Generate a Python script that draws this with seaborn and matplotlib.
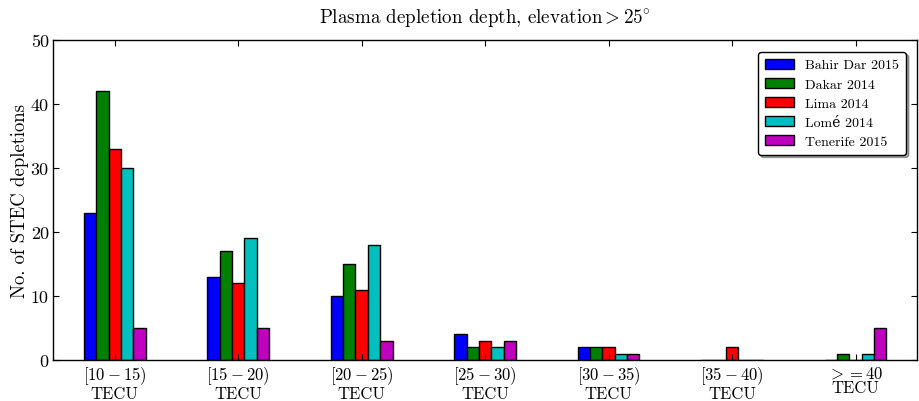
import matplotlib
matplotlib.use("Agg")
import matplotlib.pyplot as plt
import seaborn as sns
import pandas as pd

categories = ["$[10-15)$\nTECU", "$[15-20)$\nTECU", "$[20-25)$\nTECU", "$[25-30)$\nTECU",
              "$[30-35)$\nTECU", "$[35-40)$\nTECU", "$>=40$\nTECU"]
stations = ["Bahir Dar 2015", "Dakar 2014", "Lima 2014", "Lomé 2014", "Tenerife 2015"]
bahir_dar = [23, 13, 10, 4, 2, 0, 0]
dakar = [42, 17, 15, 2, 2, 0, 1]
lima = [33, 12, 11, 3, 2, 2, 0]
lome = [30, 19, 18, 2, 1, 0, 1]
tenerife = [5, 5, 3, 3, 1, 0, 5]
colors = ["#0000ff", "#008000", "#ff0000", "#00bfbf", "#bf00bf"]

series = [bahir_dar, dakar, lima, lome, tenerife]
rows = []
for st, vals in zip(stations, series):
    for c, v in zip(categories, vals):
        rows.append({"cat": c, "station": st, "count": v})
df = pd.DataFrame(rows)

plt.rcParams["font.family"] = ["cmr10", "DejaVu Serif"]
plt.rcParams["mathtext.fontset"] = "cm"
plt.rcParams["axes.formatter.use_mathtext"] = True

fig = plt.figure(figsize=(9.2, 4.02), dpi=100)
ax = fig.add_axes([0.0576, 0.102, 0.9394, 0.796])
sns.barplot(data=df, x="cat", y="count", hue="station", hue_order=stations,
            order=categories, palette=colors, width=0.5, edgecolor="black",
            linewidth=1, saturation=1, ax=ax, errorbar=None)
ax.set_xlim(-0.5, 6.5)
ax.set_ylim(0, 50)
ax.set_yticks([0, 10, 20, 30, 40, 50])
ax.set_yticklabels(["0", "10", "20", "30", "40", "50"])
ax.tick_params(direction="in", top=True, right=True, length=4)
ax.tick_params(axis="x", labelsize=12, pad=3)
ax.tick_params(axis="y", labelsize=13, pad=3)
for lab in ax.get_xticklabels():
    lab.set_linespacing(1.0)
ax.set_xlabel("")
ax.set_ylabel("No. of STEC depletions", fontsize=13.5, labelpad=1)
ax.set_title(r"Plasma depletion depth, elevation$>25^{\circ}$", fontsize=13.7, pad=12)
for s in ax.spines.values():
    s.set_color("black")
    s.set_linewidth(1)
leg = ax.legend(loc="upper right", fontsize=10, shadow=True, fancybox=True,
                framealpha=1, edgecolor="black", handlelength=2.1, handleheight=0.72,
                handletextpad=0.8, labelspacing=0.45, borderpad=0.5,
                bbox_to_anchor=(0.995, 0.985))
leg.get_frame().set_linewidth(1)
fig.savefig("out.png", dpi=100)
